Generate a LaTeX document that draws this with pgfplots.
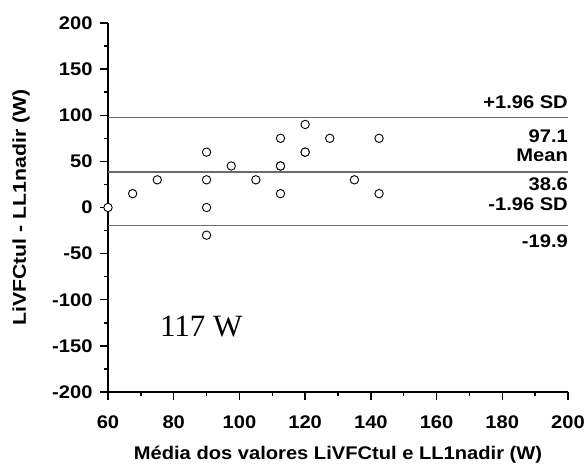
\documentclass[border=0pt]{standalone}
\usepackage{fontspec}
\setmainfont{Liberation Sans}
\newfontfamily\wsf[FakeStretch=1.1]{Liberation Sans}
\newfontfamily\ysf[FakeStretch=1.15]{Liberation Sans}
\newfontfamily\tms{Liberation Serif}
\usepackage{pgfplots}
\pgfplotsset{compat=1.18}
\definecolor{lgray}{rgb}{0.42,0.42,0.42}
\newcommand{\tf}{\wsf\bfseries\fontsize{18.3bp}{21bp}\selectfont}
\begin{document}
\begin{tikzpicture}
\useasboundingbox (-108bp,-74bp) rectangle (479bp,392bp);
\begin{axis}[
  scale only axis, width=460bp, height=369bp,
  xmin=60, xmax=200, ymin=-200, ymax=200,
  axis lines*=left,
  axis line style={-, line width=1.6bp},
  xtick={60,80,...,200}, ytick={-200,-150,...,200},
  minor x tick num=1, minor y tick num=1,
  tick align=outside,
  major tick length=8bp, minor tick length=4bp,
  every tick/.style={black, line width=1.4bp},
  /pgf/number format/assume math mode=true,
  ticklabel style={font=\tf},
  xticklabel style={yshift=-12bp},
  yticklabel style={xshift=-4bp},
  every axis x label/.style={at={(axis description cs:0.5,-0.1829)}, anchor=base},
  every axis y label/.style={at={(axis description cs:-0.189,0.5)}, anchor=center, rotate=90},
  xlabel={\tf Média dos valores LiVFCtul e LL1nadir (W)},
  ylabel={\ysf\bfseries\fontsize{18.5bp}{21bp}\selectfont LiVFCtul - LL1nadir (W)},
  clip=false,
]
\addplot[lgray, line width=0.9bp] coordinates {(60,97.1) (200,97.1)};
\addplot[lgray, line width=1.6bp] coordinates {(60,38.6) (200,38.6)};
\addplot[lgray, line width=0.9bp] coordinates {(60,-19.9) (200,-19.9)};
\addplot[only marks, mark=*, mark size=4.2bp, mark options={fill=white, draw=black, line width=0.9bp}] coordinates {
(60,0) (67.5,15) (75,30) (90,60) (90,30) (90,0) (90,-30) (97.5,45) (105,30)
(112.5,75) (112.5,45) (112.5,45) (112.5,15) (120,90) (120,60) (120,60)
(127.5,75) (135,30) (142.5,75) (142.5,15)};
\node[anchor=base east, inner sep=0pt, font=\tf, yshift=9bp] at (axis cs:200,97.1) {+1.96 SD};
\node[anchor=base east, inner sep=0pt, font=\tf, yshift=-25bp] at (axis cs:200,97.1) {97.1};
\node[anchor=base east, inner sep=0pt, font=\tf, yshift=10bp] at (axis cs:200,38.6) {Mean};
\node[anchor=base east, inner sep=0pt, font=\tf, yshift=-19bp] at (axis cs:200,38.6) {38.6};
\node[anchor=base east, inner sep=0pt, font=\tf, yshift=15.5bp] at (axis cs:200,-19.9) {-1.96 SD};
\node[anchor=base east, inner sep=0pt, font=\tf, yshift=-21.5bp] at (axis cs:200,-19.9) {-19.9};
\node[anchor=base west, inner sep=0pt, font=\tms\fontsize{31bp}{36bp}\selectfont] at (axis cs:75.8,-139.3) {117 W};
\end{axis}
\end{tikzpicture}
\end{document}
